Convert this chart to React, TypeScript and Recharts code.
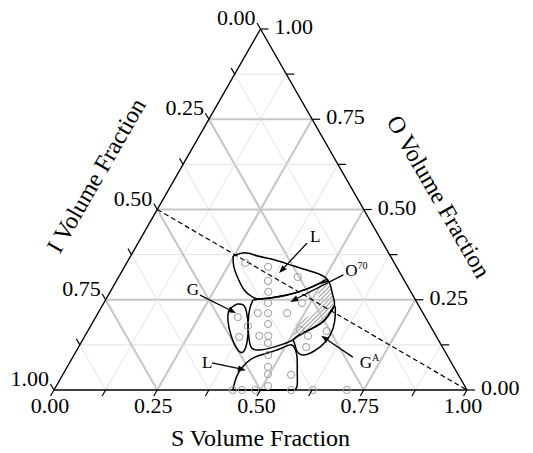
import React from 'react'
import { ComposedChart, XAxis, YAxis, Line, Area, Scatter, ReferenceLine } from 'recharts'

// every point is [S, O] volume fraction, I = 1 - S - O
type TP = [number, number]

const TICK_STEPS = [0, 0.125, 0.25, 0.375, 0.5, 0.625, 0.75, 0.875, 1]
const TICK_LABELS = ['0.00', '', '0.25', '', '0.50', '', '0.75', '', '1.00']
const GRID_STEPS = [0.125, 0.25, 0.375, 0.5, 0.625, 0.75, 0.875]
const MAJOR_GRID = [0.25, 0.5, 0.75]

const SAMPLES: TP[] = [
    [0.348, 0.341], [0.367, 0.302], [0.383, 0.272], [0.398, 0.241], [0.412, 0.213],
    [0.427, 0.183], [0.444, 0.150], [0.453, 0.130], [0.470, 0.097], [0.486, 0.064],
    [0.496, 0.044], [0.513, 0.011],
    [0.287, 0.352], [0.434, 0.313], [0.480, 0.241], [0.458, 0.213], [0.387, 0.213],
    [0.344, 0.202], [0.381, 0.177], [0.375, 0.147], [0.422, 0.150], [0.513, 0.166],
    [0.540, 0.150], [0.551, 0.119], [0.579, 0.163], [0.553, 0.042],
    [0.433, 0], [0.455, 0], [0.487, 0], [0.574, 0], [0.627, 0], [0.709, 0],
]

const REGION_L_UPPER: TP[] = [
    [0.248, 0.371], [0.273, 0.380], [0.308, 0.371], [0.355, 0.360], [0.407, 0.344],
    [0.464, 0.327], [0.493, 0.316], [0.512, 0.302], [0.496, 0.296], [0.473, 0.280],
    [0.433, 0.263], [0.396, 0.255], [0.373, 0.252], [0.351, 0.258], [0.322, 0.277],
    [0.292, 0.308], [0.265, 0.341],
]

const REGION_O70: TP[] = [
    [0.357, 0.249], [0.373, 0.252], [0.396, 0.255], [0.433, 0.263], [0.473, 0.280],
    [0.496, 0.296], [0.509, 0.305], [0.528, 0.285], [0.547, 0.258], [0.562, 0.233],
    [0.561, 0.205], [0.553, 0.183], [0.534, 0.166], [0.516, 0.150], [0.509, 0.139],
    [0.491, 0.127], [0.465, 0.116], [0.443, 0.111], [0.421, 0.116], [0.400, 0.144],
    [0.376, 0.188], [0.361, 0.227],
]

const REGION_GA: TP[] = [
    [0.509, 0.139], [0.516, 0.150], [0.534, 0.166], [0.553, 0.183], [0.561, 0.205],
    [0.562, 0.233], [0.577, 0.208], [0.590, 0.172], [0.591, 0.136], [0.576, 0.108],
    [0.554, 0.097], [0.534, 0.108], [0.521, 0.125],
]

const REGION_G: TP[] = [
    [0.324, 0.238], [0.340, 0.236], [0.356, 0.219], [0.380, 0.180], [0.401, 0.133],
    [0.405, 0.105], [0.386, 0.114], [0.354, 0.150], [0.324, 0.194], [0.314, 0.224],
]

// lower L: curved part, closed by the S axis
const REGION_L_LOWER: TP[] = [
    [0.433, 0], [0.426, 0.025], [0.423, 0.050], [0.428, 0.075], [0.441, 0.091],
    [0.467, 0.103], [0.490, 0.114], [0.509, 0.125], [0.525, 0.116], [0.543, 0.091],
    [0.564, 0.050], [0.582, 0.014], [0.584, 0],
]

const HATCHED: TP[] = [
    [0.500, 0.302], [0.521, 0.291], [0.539, 0.269], [0.554, 0.244], [0.561, 0.224],
    [0.554, 0.194], [0.537, 0.166], [0.514, 0.144], [0.498, 0.166], [0.496, 0.186],
    [0.508, 0.199], [0.521, 0.213], [0.522, 0.236], [0.511, 0.260], [0.499, 0.280],
]

const DASHED_LINE: TP[] = [[0, 0.5], [1, 0]]

const ARROWS: { from: TP; to: TP }[] = [
    { from: [0.409, 0.407], to: [0.383, 0.324] },
    { from: [0.541, 0.319], to: [0.450, 0.244] },
    { from: [0.678, 0.091], to: [0.572, 0.150] },
    { from: [0.222, 0.263], to: [0.334, 0.213] },
    { from: [0.345, 0.075], to: [0.437, 0.055] },
]

const REGION_LABELS: { at: TP; text: string; sup?: string }[] = [
    { at: [0.415, 0.410], text: 'L' },
    { at: [0.547, 0.316], text: 'O', sup: '70' },
    { at: [0.710, 0.061], text: 'G', sup: 'A' },
    { at: [0.190, 0.263], text: 'G' },
    { at: [0.328, 0.061], text: 'L' },
]

const AXIS_TITLES = ['S Volume Fraction', 'I Volume Fraction', 'O Volume Fraction']

const FONT = '"Liberation Serif", "Times New Roman", serif'

const toXY = ([s, o]: TP) => ({ x: s + o / 2, y: o })
const closed = (pts: TP[]) => [...pts, pts[0]].map(toXY)

const TICK_LEN = 7

const BottomTick = (p: any) => {
    const { cx, cy, payload } = p
    return (
        <g>
            <line x1={cx} y1={cy} x2={cx - 0.5 * TICK_LEN} y2={cy + 0.866 * TICK_LEN} stroke="#000" strokeWidth={1.2} />
            {payload.label && (
                <text x={cx - 4} y={cy + 23} textAnchor="middle" fontSize={22} fontFamily={FONT}>{payload.label}</text>
            )}
        </g>
    )
}

const LeftTick = (p: any) => {
    const { cx, cy, payload } = p
    return (
        <g>
            <line x1={cx} y1={cy} x2={cx - 0.5 * TICK_LEN} y2={cy - 0.866 * TICK_LEN} stroke="#000" strokeWidth={1.2} />
            {payload.label && (
                <text x={cx - 5} y={cy - 4} textAnchor="end" fontSize={22} fontFamily={FONT}>{payload.label}</text>
            )}
        </g>
    )
}

const RightTick = (p: any) => {
    const { cx, cy, payload } = p
    return (
        <g>
            <line x1={cx} y1={cy} x2={cx + TICK_LEN + 1} y2={cy} stroke="#000" strokeWidth={1.2} />
            {payload.label && (
                <text x={cx + 14} y={cy + 5} textAnchor="start" fontSize={22} fontFamily={FONT}>{payload.label}</text>
            )}
        </g>
    )
}

// pixel offset + rotation of each axis title from its anchor point
const TITLE_STYLE = [
    { dx: 0, dy: 48, rot: 0 },
    { dx: -61, dy: -34, rot: -60 },
    { dx: 75, dy: -13, rot: 60 },
]

const TitleShape = (p: any) => {
    const { cx, cy, payload } = p
    const st = TITLE_STYLE[payload.idx]
    const x = cx + st.dx
    const y = cy + st.dy
    return (
        <text x={x} y={y} textAnchor="middle" dominantBaseline="central" fontSize={24} fontFamily={FONT}
            transform={`rotate(${st.rot} ${x} ${y})`}>
            {payload.text}
        </text>
    )
}

const SampleShape = (p: any) => (
    <circle cx={p.cx} cy={p.cy} r={3.6} fill="none" stroke="#9c9c9c" strokeWidth={1} />
)

const LabelShape = (p: any) => {
    const { cx, cy, payload } = p
    return (
        <text x={cx} y={cy} fontSize={17} fontFamily={FONT}>
            {payload.text}
            {payload.sup && <tspan fontSize={10} dy={-7}>{payload.sup}</tspan>}
        </text>
    )
}

const ArrowShape = (p: any) => {
    const { x1, y1, x2, y2 } = p
    const a = Math.atan2(y2 - y1, x2 - x1)
    const len = 8
    const w = 3
    const bx = x2 - len * Math.cos(a)
    const by = y2 - len * Math.sin(a)
    const pts = [
        [x2, y2],
        [bx + w * Math.sin(a), by - w * Math.cos(a)],
        [bx - w * Math.sin(a), by + w * Math.cos(a)],
    ]
    return (
        <g>
            <line x1={x1} y1={y1} x2={bx} y2={by} stroke="#000" strokeWidth={1.3} />
            <polygon points={pts.map(q => q.join(',')).join(' ')} fill="#000" />
        </g>
    )
}

export default function App() {
    const bottomTicks = TICK_STEPS.map((s, i) => ({ ...toXY([s, 0]), label: TICK_LABELS[i] }))
    const leftTicks = TICK_STEPS.map((v, i) => ({ ...toXY([0, 1 - v]), label: TICK_LABELS[i] }))
    const rightTicks = TICK_STEPS.map((v, i) => ({ ...toXY([1 - v, v]), label: TICK_LABELS[i] }))

    const grid = GRID_STEPS.flatMap(k => {
        const major = MAJOR_GRID.includes(k)
        return [
            { seg: [toXY([0, k]), toXY([1 - k, k])], major },
            { seg: [toXY([k, 0]), toXY([k, 1 - k])], major },
            { seg: [toXY([0, 1 - k]), toXY([1 - k, 0])], major },
        ]
    })

    const edges = [
        [toXY([0, 0]), toXY([1, 0])],
        [toXY([0, 0]), toXY([0, 1])],
        [toXY([1, 0]), toXY([0, 1])],
    ]

    const titles = [
        { ...toXY([0.5, 0]), text: AXIS_TITLES[0], idx: 0 },
        { ...toXY([0, 0.5]), text: AXIS_TITLES[1], idx: 1 },
        { ...toXY([0.5, 0.5]), text: AXIS_TITLES[2], idx: 2 },
    ]

    const outlines = [REGION_L_UPPER, REGION_O70, REGION_GA, REGION_G].map(closed)
    const lowerL = REGION_L_LOWER.map(toXY)
    const lowerLBase = [REGION_L_LOWER[REGION_L_LOWER.length - 1], REGION_L_LOWER[0]].map(toXY)

    return (
        <div style={{ position: 'absolute', left: 0, top: 0, background: '#fff' }}>
            <ComposedChart width={533} height={453} margin={{ top: 29, right: 66, bottom: 63, left: 54 }}>
                <defs>
                    <pattern id="hatch" width={3} height={3} patternUnits="userSpaceOnUse" patternTransform="rotate(45)">
                        <line x1={0} y1={0} x2={0} y2={3} stroke="#333" strokeWidth={1} />
                    </pattern>
                </defs>
                <XAxis type="number" dataKey="x" domain={[0, 1]} hide height={0} />
                <YAxis type="number" dataKey="y" domain={[0, 1]} hide width={0} />

                {grid.map((g, i) => (
                    <ReferenceLine key={`g-${i}`} segment={g.seg}
                        stroke={g.major ? '#c6c6c6' : '#e2e2e2'} strokeWidth={g.major ? 2 : 1} />
                ))}

                <ReferenceLine segment={DASHED_LINE.map(toXY)} stroke="#000" strokeWidth={1.2} strokeDasharray="5 3" />

                <Scatter data={SAMPLES.map(toXY)} shape={SampleShape} isAnimationActive={false} />

                <Area data={closed(HATCHED)} dataKey="y" type="natural" baseValue={HATCHED[0][1]}
                    fill="url(#hatch)" fillOpacity={1} stroke="none" isAnimationActive={false} />

                {outlines.map((d, i) => (
                    <Line key={`r-${i}`} data={d} dataKey="y" type="natural" stroke="#000" strokeWidth={1.5}
                        dot={false} activeDot={false} isAnimationActive={false} />
                ))}
                <Line data={lowerL} dataKey="y" type="natural" stroke="#000" strokeWidth={1.5}
                    dot={false} activeDot={false} isAnimationActive={false} />
                <Line data={lowerLBase} dataKey="y" type="linear" stroke="#000" strokeWidth={2.2}
                    dot={false} activeDot={false} isAnimationActive={false} />

                {edges.map((e, i) => (
                    <ReferenceLine key={`e-${i}`} segment={e} stroke="#000" strokeWidth={1.4} />
                ))}

                {ARROWS.map((a, i) => (
                    <ReferenceLine key={`a-${i}`} segment={[toXY(a.from), toXY(a.to)]} shape={ArrowShape} />
                ))}

                <Scatter data={REGION_LABELS.map(l => ({ ...toXY(l.at), text: l.text, sup: l.sup }))}
                    shape={LabelShape} isAnimationActive={false} />

                <Scatter data={bottomTicks} shape={BottomTick} isAnimationActive={false} />
                <Scatter data={leftTicks} shape={LeftTick} isAnimationActive={false} />
                <Scatter data={rightTicks} shape={RightTick} isAnimationActive={false} />
                <Scatter data={titles} shape={TitleShape} isAnimationActive={false} />
            </ComposedChart>
        </div>
    )
}
